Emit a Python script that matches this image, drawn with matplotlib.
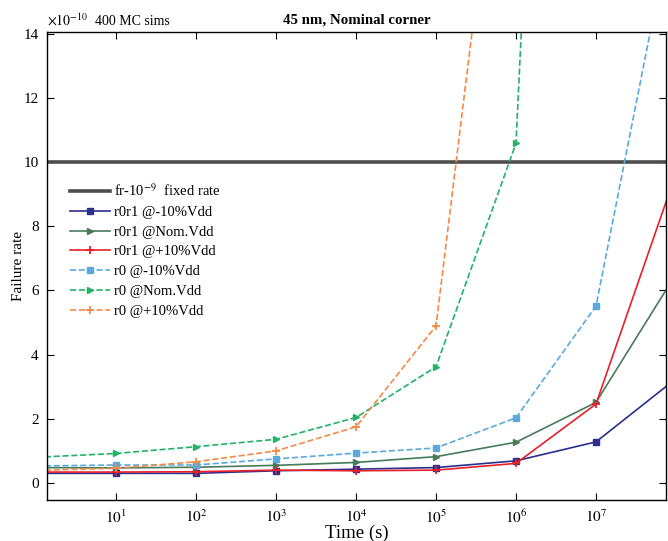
import numpy as np
import matplotlib
matplotlib.use('Agg')
import matplotlib.pyplot as plt

plt.rcParams['font.family'] = ['Liberation Serif', 'DejaVu Serif']
plt.rcParams['mathtext.fontset'] = 'stix'

# time points (s)
time_s = [1, 1e1, 1e2, 1e3, 1e4, 1e5, 1e6, 1e7, 1e8]

# failure rates in units of 1e-10
r0r1_m10 = [0.30, 0.30, 0.30, 0.38, 0.43, 0.48, 0.69, 1.28, 3.25]
r0r1_nom = [0.48, 0.47, 0.49, 0.55, 0.64, 0.82, 1.27, 2.51, 6.51]
r0r1_p10 = [0.34, 0.34, 0.35, 0.40, 0.38, 0.40, 0.61, 2.46, 9.65]
r0_m10 = [0.53, 0.56, 0.56, 0.75, 0.93, 1.09, 2.03, 5.51, 18.1]
r0_nom = [0.80, 0.92, 1.13, 1.36, 2.04, 3.62, 10.58, 63.0]
r0_p10 = [0.39, 0.46, 0.66, 1.00, 1.75, 4.89, 25.2]
fixed_rate = 10.0

fig = plt.figure(figsize=(6.68, 5.41), dpi=100)
ax = fig.add_axes([0.0704, 0.0758, 0.9266, 0.8651])

ax.axhline(fixed_rate, color='#4d4d4d', lw=2.6, label=r'fr-10$^{-9}$  fixed rate')
ax.plot(time_s, r0r1_m10, '-', marker='s', color='#2b2f8e', ms=4, lw=1.2,
        label='r0r1 @-10%Vdd')
ax.plot(time_s, r0r1_nom, '-', marker='>', color='#487a5c', ms=5, lw=1.2,
        label='r0r1 @Nom.Vdd')
ax.plot(time_s, r0r1_p10, '-', marker='+', color='#e8202a', ms=6, mew=1.3, lw=1.2,
        label='r0r1 @+10%Vdd')
ax.plot(time_s[:len(r0_m10)], r0_m10, '--', marker='s', color='#5aaae0', ms=4, lw=1.2,
        label='r0 @-10%Vdd')
ax.plot(time_s[:len(r0_nom)], r0_nom, '--', marker='>', color='#22b26a', ms=5, lw=1.2,
        label='r0 @Nom.Vdd')
ax.plot(time_s[:len(r0_p10)], r0_p10, '--', marker='+', color='#f58a48', ms=6, mew=1.3, lw=1.2,
        label='r0 @+10%Vdd')

ax.set_xscale('log')
ax.set_xlim(10 ** 0.1375, 10 ** 7.875)
ax.set_ylim(-0.53, 14.05)
ax.set_xticks([1e1, 1e2, 1e3, 1e4, 1e5, 1e6, 1e7])
ax.set_xticklabels([r'$10^{%d}$' % k for k in range(1, 8)])
ax.xaxis.set_minor_locator(matplotlib.ticker.NullLocator())
ax.set_yticks(np.arange(0, 15, 2))
ax.tick_params(direction='in', length=5, width=0.8, top=True, right=True,
               labelsize=11, pad=6)
for s in ax.spines.values():
    s.set_linewidth(1.0)

ax.set_xlabel('Time (s)', fontsize=13.5)
ax.xaxis.set_label_coords(0.5, -0.052)
ax.set_ylabel('Failure rate', fontsize=11)
ax.yaxis.set_label_coords(-0.036, 0.5)
ax.set_title('45 nm, Nominal corner', fontsize=10.7, fontweight='bold', pad=6)
ax.text(0.0, 1.008, r'$\times 10^{-10}$', transform=ax.transAxes,
        fontsize=10, ha='left', va='bottom')
ax.text(0.078, 1.008, '400 MC sims', transform=ax.transAxes,
        fontsize=10, ha='left', va='bottom')

ax.legend(loc='upper left', bbox_to_anchor=(0.02, 0.7), frameon=False,
          fontsize=10.5, handlelength=2.8, handletextpad=0.25, labelspacing=0.45,
          borderaxespad=0.3)

fig.savefig('out.png', dpi=100)
